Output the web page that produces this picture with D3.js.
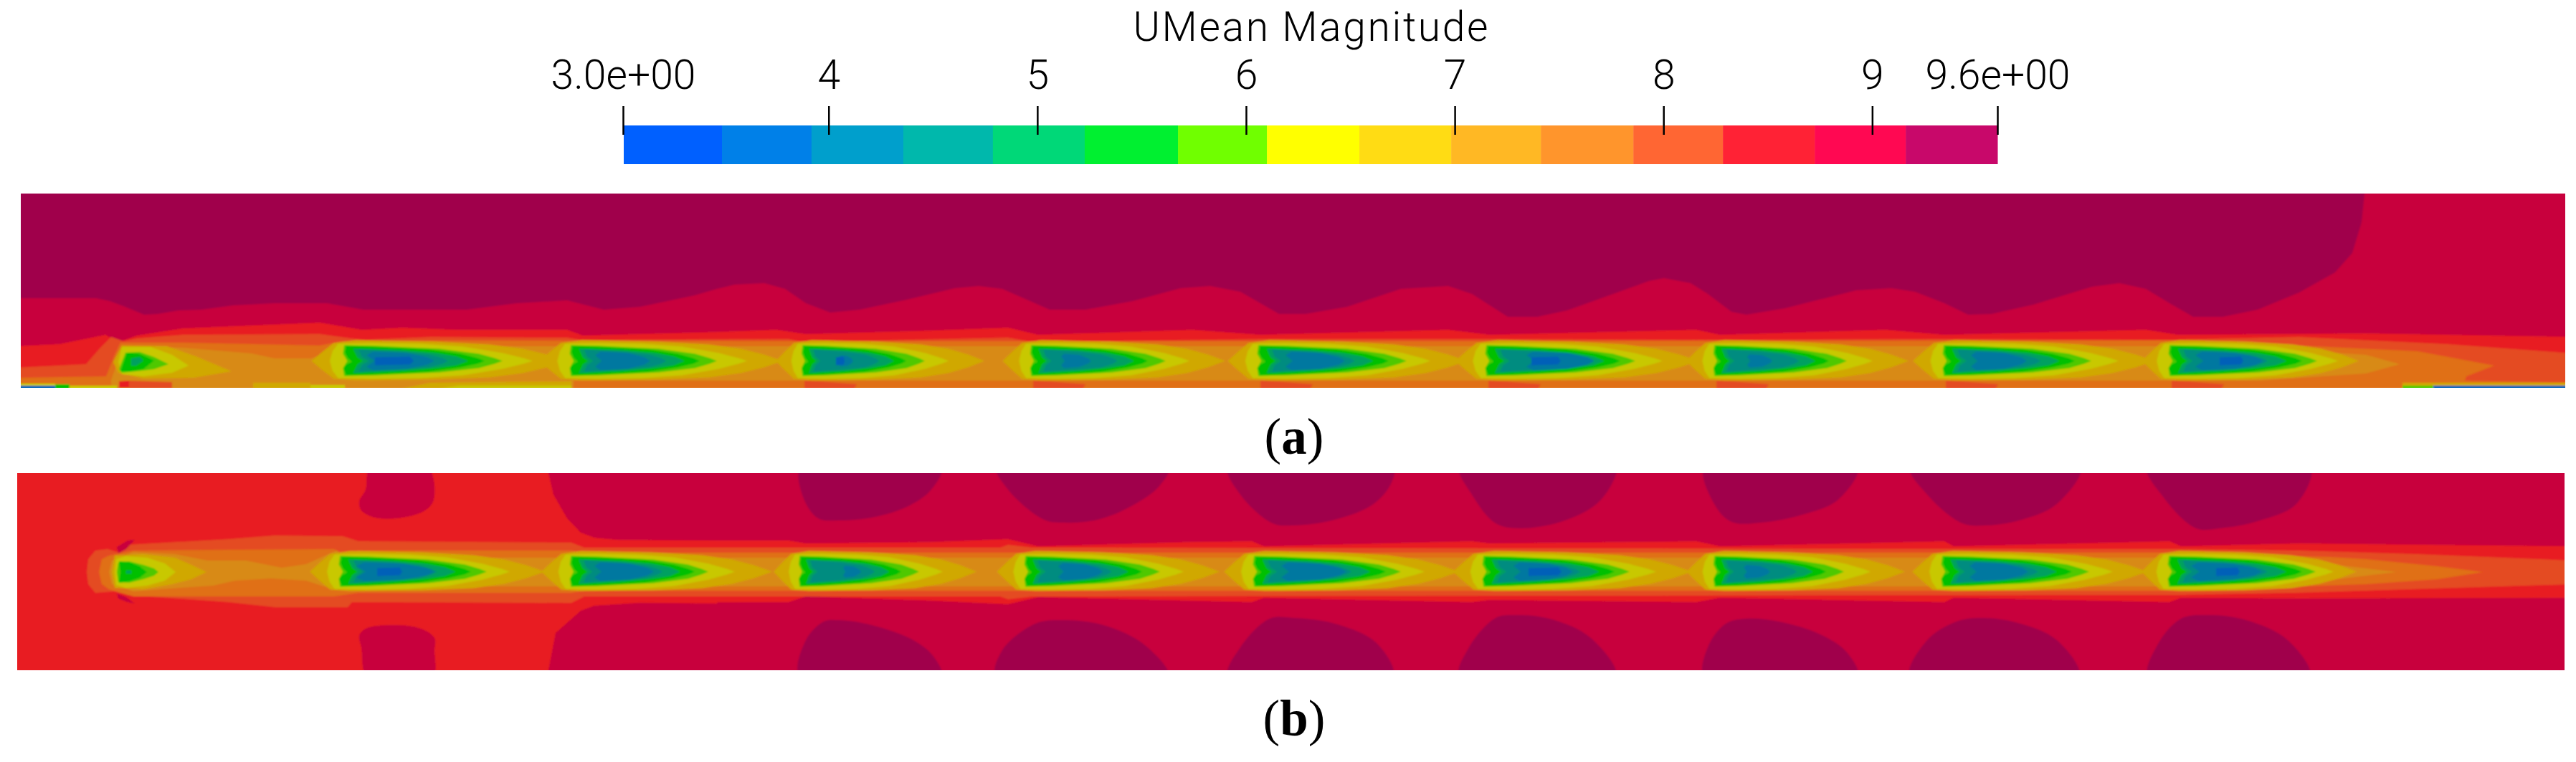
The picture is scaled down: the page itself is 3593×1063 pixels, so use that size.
<!DOCTYPE html>
<html><head><meta charset="utf-8">
<script src="https://cdn.jsdelivr.net/npm/d3@7/dist/d3.min.js"></script>
<style>html,body{margin:0;padding:0;background:#fff}svg{display:block}
.lab{font-family:Roboto,"Liberation Sans",sans-serif;font-weight:300;fill:#000}
.cap{font-family:"Liberation Serif",serif;fill:#000}</style></head><body><script>
// ---------- colour key ----------
const barTitle = "UMean Magnitude";
const barDomain = [3.015, 9.6];
const tickValues = [3.015, 4, 5, 6, 7, 8, 9, 9.6];
const tickLabels = ["3.0e+00", "4", "5", "6", "7", "8", "9", "9.6e+00"];
const barEdges = [3.015,3.489,3.918,4.358,4.787,5.227,5.674,6.100,6.543,6.983,7.413,7.856,8.285,8.725,9.161,9.6];
const barColors = ["#0060ff","#0080e8","#009fcc","#00b8ac","#00d878","#00f030","#70ff00","#ffff00","#ffdc14","#ffb824","#ff952c","#ff6633","#ff2235","#ff0852","#c8086a"];
// field colours by band (shaded as in the render), low to high speed
const fieldColors = ["#0060b8","#0078a0","#008c80","#00a060","#00c000","#50c800","#c8c800","#d0a800","#d88a14","#e07018","#e44c20","#e81a24","#c8033c","#a0034c"];
const [CORE,BLUE,TEAL2,TEAL1,GREEN,LIME,YEL,GOLD,AMB,ORG,DORG,RED,CRIM,DARK] = d3.range(14);

// ---------- panel (a): band boundaries read in reference grid units ----------
const crimA = [[29,416],[134,416],[153,420],[172,427],[201,439],[220,438],[249,433],[281,432],[325,426],[383,423],[456,423],[507,432],[651,432],[721,423],[791,419],[842,432],[893,428],[969,412],[1000,403],[1025,397],[1066,395],[1095,403],[1124,423],[1158,436],[1199,432],[1265,418],[1332,402],[1365,399],[1398,403],[1464,432],[1514,432],[1580,420],[1647,402],[1688,399],[1730,407],[1784,438],[1821,438],[1879,428],[1954,403],[2020,399],[2053,410],[2103,442],[2144,442],[2186,433],[2300,392],[2321,388],[2358,395],[2382,410],[2415,435],[2436,439],[2490,430],[2589,405],[2638,402],[2671,407],[2712,423],[2745,439],[2778,438],[2836,425],[2918,400],[2956,395],[2993,403],[3026,423],[3059,442],[3100,442],[3149,432],[3207,408],[3257,380],[3281,353],[3294,310],[3299,260],[3590,260],[3590,550],[20,550],[20,416]];
const redA = [[20,483],[83,480],[147,467],[166,477],[191,468],[255,458],[446,450],[505,460],[561,457],[638,460],[791,460],[813,468],[1000,463],[1083,460],[1124,466],[1300,461],[1406,457],[1448,467],[1663,460],[1759,467],[2020,460],[2078,467],[2366,460],[2399,467],[2630,460],[2712,467],[2993,460],[3038,467],[3300,465],[3590,470],[3590,550],[20,550]];
const dorgA = [[20,513],[120,508],[140,485],[155,470],[172,476],[191,472],[255,467],[446,466],[490,472],[507,474],[600,470],[791,471],[810,474],[1100,473],[1120,477],[1406,471],[1440,477],[1760,473],[2074,473],[2392,474],[2712,473],[3027,474],[3207,470],[3413,480],[3590,493],[3590,550],[20,550]];
const orgA = [[20,527],[148,525],[160,495],[168,478],[191,478],[255,478],[446,482],[478,476],[600,475],[1120,476],[2000,476],[3042,475],[3207,482],[3372,490],[3479,510],[3440,525],[3438,531],[3590,534],[3590,550],[20,550]];
const ambA = [[155,530],[172,483],[255,485],[351,493],[383,500],[433,500],[465,490],[478,480],[485,483],[3027,483],[3150,485],[3300,495],[3347,508],[3300,521],[3150,531],[800,531],[800,550],[155,550]];
// panel (a) first rotor, and the strips along the lower wall
const firstA = [
  [GOLD,[[170,482],[233,483],[273,497],[323,518],[270,527],[200,528],[165,520],[158,505]]],
  [YEL,[[165,505],[170,484],[210,484],[240,495],[263,510],[240,520],[200,525],[170,522]]],
  [LIME,[[166,515],[175,492],[195,491],[215,498],[235,508],[215,515],[190,518],[170,520]]],
  [GREEN,[[168,518],[177,492],[193,493],[205,498],[215,503],[200,515],[180,518]]],
  [TEAL1,[[183,500],[195,498],[200,503],[190,510],[183,510]]],
  [RED,[[166,532],[180,531],[182,541],[166,541]]],
  [DORG,[[180,531],[240,533],[240,542],[180,542]]]
];
const stripsA = [
  [GOLD,[[560,542],[600,534],[797,532],[797,542]]],
  [YEL,[[612,542],[640,538],[797,538],[797,542]]],
  [GOLD,[[353,542],[353,534],[433,534],[433,542]]],
  [YEL,[[433,542],[433,537],[481,537],[481,542]]],
  [YEL,[[20,535],[77,535],[77,542],[20,542]]],
  [CORE,[[20,538],[77,538],[77,545],[20,545]]],
  [GREEN,[[77,536],[97,536],[97,545],[77,545]]],
  [YEL,[[97,538],[163,538],[163,545],[97,545]]],
  [GOLD,[[3351,534],[3590,534],[3590,545],[3351,545]]],
  [LIME,[[3351,538],[3394,538],[3394,545],[3351,545]]],
  [CORE,[[3394,538],[3590,538],[3590,545],[3394,545]]]
];
// panel (a) rotors 2-10: leading edge and length of each band behind the rotor
const rotorA  = [481,797,1120,1439,1756,2074,2392,2712,3027];
const greenA  = [195,179,144,162,181,186,159,182,184];
const limeA   = [220,203,170,187,206,207,184,205,205];
const yellowA = [262,245,203,220,239,245,220,243,234];
const goldA   = [310,295,253,270,290,295,270,293,263];
const blueOffA= [30,33,50,41,37,55,45,37,35];
const blueLenA= [95,77,20,42,83,95,35,78,95];
const coreOffA= [42,0,46,0,0,62,0,0,69];
const coreLenA= [54,0,12,0,0,41,0,0,33];

// ---------- panel (b) ----------
const lobeCrimB = [
 [[517,650],[596,650],[605,697],[593,712],[561,722],[523,722],[504,712],[501,700],[510,683]],
 [[501,887],[510,877],[548,872],[587,877],[606,890],[606,907],[603,945],[513,945],[504,903]]
];
const crimB = [[755,650],[765,660],[772,690],[791,723],[810,743],[829,750],[861,753],[1000,754],[1000,842],[893,841],[829,845],[810,852],[775,883],[765,935],[755,945],[3590,945],[3590,650]];
const darkB = [
 [[1118,650],[1120,693],[1141,723],[1170,726],[1216,722],[1265,707],[1299,683],[1313,650]],
 [[1116,945],[1124,893],[1149,867],[1170,865],[1216,872],[1274,893],[1303,917],[1313,945]],
 [[1390,650],[1406,683],[1456,725],[1481,729],[1531,725],[1580,705],[1618,677],[1630,650]],
 [[1390,945],[1398,907],[1444,870],[1481,865],[1539,872],[1597,900],[1630,945]],
 [[1713,650],[1730,690],[1775,730],[1804,733],[1862,725],[1916,703],[1941,673],[1943,650]],
 [[1713,945],[1730,903],[1771,863],[1804,862],[1862,870],[1920,897],[1943,945]],
 [[2036,650],[2053,690],[2086,730],[2119,737],[2177,728],[2227,703],[2252,667],[2254,650]],
 [[2036,945],[2049,903],[2086,862],[2111,858],[2161,863],[2219,890],[2254,945]],
 [[2378,650],[2391,703],[2415,728],[2457,729],[2514,718],[2564,697],[2591,650]],
 [[2378,945],[2382,903],[2407,870],[2436,863],[2481,867],[2539,885],[2576,910],[2591,945]],
 [[2664,650],[2688,690],[2737,730],[2770,733],[2820,725],[2869,703],[2902,650]],
 [[2664,945],[2688,893],[2729,867],[2762,862],[2811,868],[2869,893],[2900,945]],
 [[2995,650],[3017,693],[3063,737],[3096,737],[3149,727],[3203,703],[3222,650]],
 [[2997,945],[3009,900],[3042,863],[3079,858],[3133,865],[3191,893],[3222,945]]
];
const redBandB = [[797,754],[1100,754],[1124,758],[1300,756],[1406,752],[1448,762],[1660,756],[1746,755],[1763,762],[2053,755],[2078,758],[2366,755],[2399,762],[2712,755],[2725,762],[3026,755],[3042,762],[3207,758],[3590,762],[3590,834],[3207,835],[3042,834],[3026,840],[2725,834],[2712,840],[2399,834],[2366,840],[2078,837],[2053,840],[1763,834],[1746,840],[1448,833],[1406,843],[1300,838],[1124,832],[1100,840],[797,841]];
const dorgB = [[121,798],[123,780],[133,768],[150,766],[163,770],[178,760],[319,752],[383,747],[478,748],[500,755],[797,757],[815,764],[1395,764],[1406,760],[1440,764],[3034,766],[3207,768],[3372,773],[3590,782],[3590,815],[3200,827],[3034,830],[1440,832],[1406,836],[1395,832],[815,832],[797,841],[491,840],[485,847],[383,847],[319,840],[178,830],[160,825],[133,827],[123,815]];
const orgB = [[138,798],[142,780],[152,775],[186,768],[466,766],[478,772],[500,768],[797,768],[815,771],[3026,771],[3250,777],[3300,780],[3400,790],[3463,798],[3400,808],[3300,815],[3026,824],[815,824],[797,827],[500,827],[466,832],[186,832],[152,822],[142,815]];
const ambB = [[152,798],[156,782],[186,770],[244,773],[290,782],[343,782],[393,792],[427,787],[458,773],[470,768],[478,778],[3026,778],[3100,780],[3250,787],[3343,798],[3250,809],[3100,816],[3026,818],[478,818],[458,820],[427,810],[378,807],[328,810],[297,817],[251,820],[186,825],[156,815]];
const firstB = [
  [CRIM,[[163,763],[178,754],[188,753],[176,766],[165,772]]],
  [CRIM,[[163,828],[176,833],[188,842],[178,840],[165,835]]],
  [GOLD,[[156,798],[160,775],[200,773],[244,778],[267,788],[288,798],[267,808],[240,815],[200,822],[160,820]]],
  [YEL,[[160,798],[162,780],[175,776],[205,778],[230,786],[245,798],[230,810],[205,817],[175,820],[162,816]]],
  [LIME,[[163,798],[165,785],[180,783],[200,788],[215,793],[221,798],[215,803],[200,808],[180,813],[165,812]]],
  [GREEN,[[166,783],[180,784],[195,790],[205,798],[195,806],[180,811],[166,813],[168,798]]],
  [TEAL1,[[176,796],[183,796],[183,800],[176,800]]]
];
const rotorB  = [475,797,1116,1431,1750,2070,2392,2710,3026];
const greenB  = [182,172,141,162,183,182,155,180,185];
const limeB   = [204,191,166,187,204,203,180,204,204];
const yellowB = [236,228,199,220,237,240,217,237,229];
const goldB   = [285,280,246,270,285,290,265,285,261];
const blueOffB= [22,32,60,45,37,41,40,37,30];
const blueLenB= [109,83,25,62,91,83,37,82,99];
const coreOffB= [51,0,0,0,0,62,0,0,65];
const coreLenB= [35,0,0,0,0,46,0,0,33];

// ---------- wake outlines: fraction of band length, offset from centreline ----------
const outlineGold  = [[-0.15,0],[-0.1,-13],[-0.05,-25],[0.05,-29],[0.4,-27],[0.65,-23],[0.8,-17],[0.91,-9],[1,0],[0.91,9],[0.8,17],[0.65,23],[0.4,26],[0.05,27],[-0.05,25],[-0.1,13]];
const outlineYel   = [[-0.08,0],[-0.065,-14],[-0.035,-24],[0.15,-25],[0.4,-24],[0.63,-20],[0.84,-11],[0.95,-4],[1,0],[0.95,4],[0.84,11],[0.63,20],[0.4,24],[0.15,25],[-0.035,24],[-0.065,14]];
const outlineLime  = [[-0.012,-10],[-0.004,-22],[0.2,-21],[0.6,-17],[0.85,-10],[0.95,-4],[1,0],[0.95,4],[0.85,10],[0.6,16],[0.2,20],[-0.004,21],[-0.012,10],[0.015,0]];
const outlineGreen = [[0,-12],[0.01,-21],[0.2,-20],[0.6,-16],[0.83,-10],[0.95,-4],[1,0],[0.95,4],[0.83,9],[0.6,15],[0.2,19],[0.01,20],[-0.01,10],[0.01,5],[0.05,1],[0.02,-4]];
const outlineTeal1 = [[0.06,-17],[0.4,-15],[0.65,-11],[0.8,-6],[0.88,0],[0.8,6],[0.65,10],[0.4,14],[0.06,17],[0.09,5],[0.13,0],[0.09,-5]];
const outlineTeal2 = [[0.1,-16],[0.4,-13],[0.6,-9],[0.7,-4],[0.74,0],[0.7,4],[0.6,9],[0.4,12],[0.1,15],[0.12,6],[0.17,0],[0.12,-6]];
const outlineBlue  = [[0,-8],[0.1,-13],[0.6,-11],[0.9,-5],[1,0],[0.9,5],[0.6,11],[0.1,13],[0,8],[0.12,0]];
const outlineCore  = [[0,-5],[0.9,-6],[1,0],[0.9,5],[0,6]];

// ---------- drawing ----------
const W = 3593, H = 1063;
const svg = d3.select("body").append("svg").attr("width",W).attr("height",H).attr("viewBox",[0,0,W,H]);
const defs = svg.append("defs");
defs.append("filter").attr("id","soft").attr("x","-2%").attr("y","-10%").attr("width","104%").attr("height","120%")
  .attr("filterUnits","objectBoundingBox").append("feGaussianBlur").attr("stdDeviation",1.3);

function drawPanel(id, box, base, layers) {
  const x = d3.scaleLinear().domain([box.x0,box.x1]).range([box.x0,box.x1]);
  const y = d3.scaleLinear().domain([box.y0,box.y1]).range([box.y0,box.y1]);
  defs.append("clipPath").attr("id",id).append("rect").attr("x",x(box.x0)).attr("y",y(box.y0)).attr("width",x(box.x1)-x(box.x0)).attr("height",y(box.y1)-y(box.y0));
  const g = svg.append("g").attr("clip-path",`url(#${id})`);
  const f = g.append("g").attr("filter","url(#soft)");
  f.append("rect").attr("x",x(box.x0)-20).attr("y",y(box.y0)-20).attr("width",x(box.x1)-x(box.x0)+40).attr("height",y(box.y1)-y(box.y0)+40).attr("fill",fieldColors[base]);
  const linear = d3.line().x(d=>x(d[0])).y(d=>y(d[1])).curve(d3.curveLinearClosed);
  const round = d3.line().x(d=>x(d[0])).y(d=>y(d[1])).curve(d3.curveCatmullRomClosed.alpha(0.5));
  f.selectAll("path").data(layers).join("path")
    .attr("d",d=>(d[2]?round:linear)(d[1])).attr("fill",d=>fieldColors[d[0]]);
}
function wakeLayers(cy, rot, green, lime, yel, gold, bOff, bLen, cOff, cLen) {
  const out = [];
  const add = (band,outline,start,len,sy=1)=>out.push([band,outline.map(p=>[start+p[0]*len,cy+p[1]*sy])]);
  rot.forEach((r,i)=>{ add(GOLD,outlineGold,r,gold[i]); });
  rot.forEach((r,i)=>{
    add(YEL,outlineYel,r,yel[i]);
    add(LIME,outlineLime,r,lime[i]);
    add(GREEN,outlineGreen,r,green[i]);
    add(TEAL1,outlineTeal1,r,green[i]);
    add(TEAL2,outlineTeal2,r,green[i]);
    add(BLUE,outlineBlue,r+bOff[i],bLen[i],Math.min(1,0.45+bLen[i]/130));
    if (cLen[i]>0) add(CORE,outlineCore,r+cOff[i],cLen[i]);
  });
  return out;
}
// panel (a)
const patchA = rotorA.slice(2).map(r=>[DORG,[[r+2,531],[r+25,532],[r+75,536],[r+70,545],[r+2,545]]]);
drawPanel("pa",{x0:29,x1:3578,y0:270,y1:541},DARK,[
  [CRIM,crimA],[RED,redA],[DORG,dorgA],[ORG,orgA],[AMB,ambA],
  ...firstA,...wakeLayers(503.5,rotorA,greenA,limeA,yellowA,goldA,blueOffA,blueLenA,coreOffA,coreLenA),
  ...patchA,...stripsA]);
// panel (b)
drawPanel("pb",{x0:24,x1:3577,y0:660,y1:935},RED,[
  ...lobeCrimB.map(l=>[CRIM,l,true]),[CRIM,crimB],
  ...darkB.map(l=>[DARK,l,true]),
  [RED,redBandB],[DORG,dorgB],[ORG,orgB],[AMB,ambB],
  ...firstB,...wakeLayers(797.5,rotorB,greenB,limeB,yellowB,goldB,blueOffB,blueLenB,coreOffB,coreLenB)]);

// colour bar
const xBar = d3.scaleLinear().domain(barDomain).range([869,2786]);
svg.append("g").selectAll("rect").data(barColors).join("rect")
  .attr("x",(d,i)=>xBar(barEdges[i])+(i==0?1:0)).attr("width",(d,i)=>xBar(barEdges[i+1])-xBar(barEdges[i])+0.5)
  .attr("y",175).attr("height",54).attr("fill",d=>d);
const axis = d3.axisTop(xBar).tickValues(tickValues).tickSize(40).tickPadding(24)
  .tickFormat((d,i)=>tickLabels[i]);
const ax = svg.append("g").attr("transform","translate(0,188)").call(axis);
ax.select(".domain").remove();
ax.selectAll("line").attr("stroke","#000").attr("stroke-width",2.5);
ax.selectAll("text").attr("class","lab").attr("font-size",57).attr("fill","#000");
svg.append("text").attr("class","lab").attr("x",1828).attr("y",57).attr("text-anchor","middle")
  .attr("font-size",57).attr("textLength",495).attr("lengthAdjust","spacing").text(barTitle);

// captions
const captions = [["a",1805,633],["b",1805,1026]];
captions.forEach(([c,cx,cy])=>{
  const t = svg.append("text").attr("class","cap").attr("x",cx).attr("y",cy).attr("text-anchor","middle").attr("font-size",71);
  t.append("tspan").text("(");
  t.append("tspan").attr("font-weight","bold").text(c);
  t.append("tspan").text(")");
});
</script></body></html>
